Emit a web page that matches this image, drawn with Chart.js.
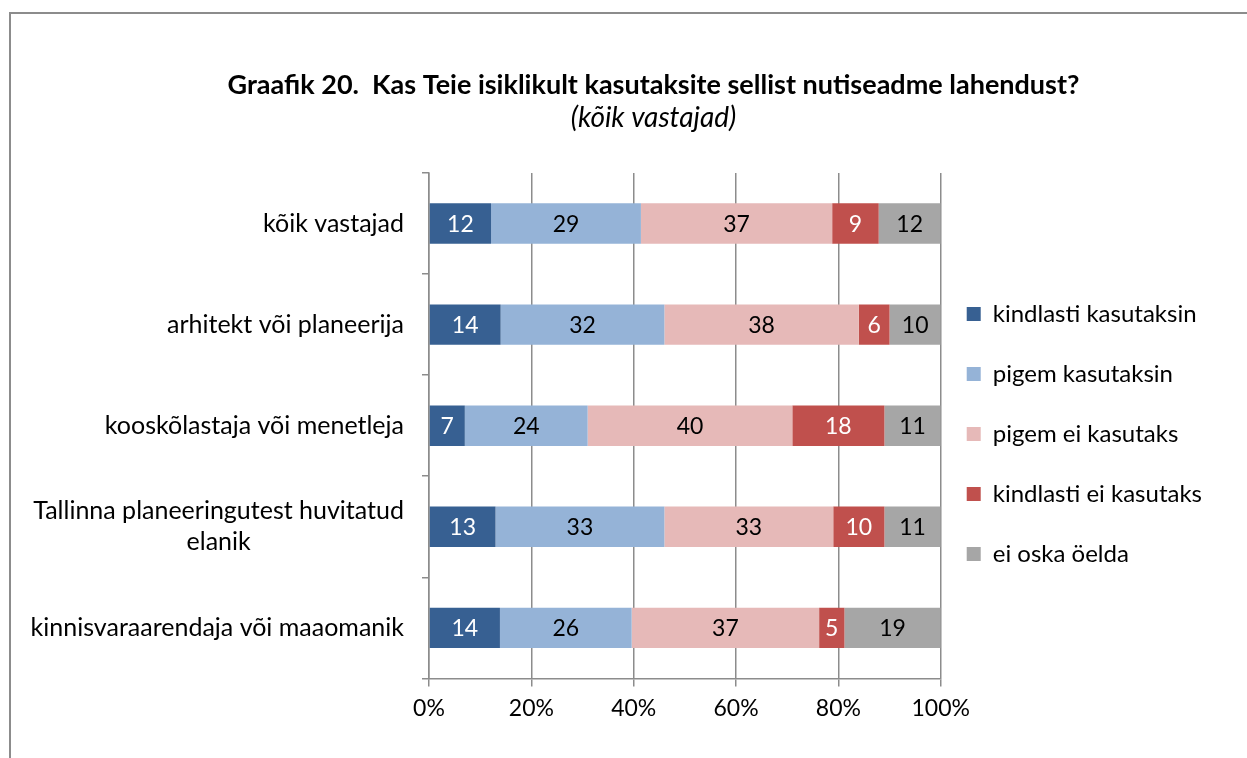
<!DOCTYPE html>
<html>
<head>
<meta charset="utf-8">
<script src="https://cdn.jsdelivr.net/npm/chart.js@4/dist/chart.umd.min.js"></script>
<style>
    html, body { margin: 0; padding: 0; background: #fff; }
    #frame {
        position: absolute; left: 9px; top: 12px; width: 1260px; height: 780px;
        border: 2px solid #8c8c8c; box-sizing: border-box;
    }
    #wrap { position: absolute; left: 0; top: 0; width: 1247px; height: 758px; }
</style>
</head>
<body>
<div id="frame"></div>
<div id="wrap"><canvas id="chart"></canvas></div>
<script>
    'use strict';

    // Categories (top to bottom)
    const categories = [
        'kõik vastajad',
        'arhitekt või planeerija',
        'kooskõlastaja või menetleja',
        ['Tallinna planeeringutest huvitatud', 'elanik'],
        'kinnisvaraarendaja või maaomanik'
    ];

    // Series (answers), values in % per category
    const seriesNames = [
        'kindlasti kasutaksin',
        'pigem kasutaksin',
        'pigem ei kasutaks',
        'kindlasti ei kasutaks',
        'ei oska öelda'
    ];
    const kindlastiKasutaksin = [12, 14, 7, 13, 14];
    const pigemKasutaksin = [29, 32, 24, 33, 26];
    const pigemEiKasutaks = [37, 38, 40, 33, 37];
    const kindlastiEiKasutaks = [9, 6, 18, 10, 5];
    const eiOskaOelda = [12, 10, 11, 11, 19];

    const xTicks = [0, 20, 40, 60, 80, 100];

    const seriesColors = ['#376092', '#95b3d7', '#e6b9b8', '#c0504d', '#a6a6a6'];
    const labelColors = ['#ffffff', '#000000', '#000000', '#ffffff', '#000000'];

    const FONT = 'Lato, "Open Sans", sans-serif';
    const seriesValues = [kindlastiKasutaksin, pigemKasutaksin, pigemEiKasutaks, kindlastiEiKasutaks, eiOskaOelda];

    // 100% stacked: each row scaled to its own total
    const rowTotals = categories.map(function(_, i) {
        return seriesValues.reduce(function(s, arr) { return s + arr[i]; }, 0);
    });

    const datasets = seriesNames.map(function(name, k) {
        return {
            label: name,
            raw: seriesValues[k],
            data: seriesValues[k].map(function(v, i) { return v / rowTotals[i] * 100; }),
            backgroundColor: seriesColors[k],
            borderWidth: 0,
            barPercentage: 0.8,
            categoryPercentage: 0.5
        };
    });

    // Value labels in the middle of each segment
    const segmentLabels = {
        id: 'segmentLabels',
        afterDatasetsDraw: function(chart) {
            const ctx = chart.ctx;
            ctx.save();
            ctx.font = '23px ' + FONT;
            ctx.textAlign = 'center';
            ctx.textBaseline = 'middle';
            chart.data.datasets.forEach(function(ds, k) {
                chart.getDatasetMeta(k).data.forEach(function(bar, i) {
                    ctx.fillStyle = labelColors[k];
                    ctx.fillText(String(ds.raw[i]), (bar.x + bar.base) / 2, bar.y + 1);
                });
            });
            ctx.restore();
        }
    };

    // Category labels: block right-aligned, lines centred inside the block
    const categoryLabels = {
        id: 'categoryLabels',
        afterDraw: function(chart) {
            const ctx = chart.ctx;
            const yScale = chart.scales.y;
            const right = chart.chartArea.left - 25;
            const lineH = 31;
            ctx.save();
            ctx.font = '25px ' + FONT;
            ctx.fillStyle = '#000';
            ctx.textAlign = 'center';
            ctx.textBaseline = 'middle';
            categories.forEach(function(lab, i) {
                const lines = Array.isArray(lab) ? lab : [lab];
                const w = Math.max.apply(null, lines.map(function(l) { return ctx.measureText(l).width; }));
                const cx = right - w / 2;
                const cy = yScale.getPixelForValue(i);
                lines.forEach(function(l, j) {
                    ctx.fillText(l, cx, cy + (j - (lines.length - 1) / 2) * lineH);
                });
            });
            ctx.restore();
        }
    };

    // Pull the legend a little closer to the plot
    const legendNudge = {
        id: 'legendNudge',
        afterLayout: function(chart) {
            if (chart.legend) {
                chart.legend.left -= 10;
                chart.legend.right -= 10;
            }
        }
    };

    new Chart(document.getElementById('chart'), {
        type: 'bar',
        data: { labels: categories, datasets: datasets },
        options: {
            indexAxis: 'y',
            responsive: true,
            maintainAspectRatio: false,
            animation: false,
            layout: { padding: { left: 85, right: 25, top: 0, bottom: 28 } },
            plugins: {
                title: {
                    display: true,
                    text: 'Graafik 20.  Kas Teie isiklikult kasutaksite sellist nutiseadme lahendust?',
                    color: '#000',
                    font: { family: FONT, size: 27, weight: 'bold' },
                    padding: { top: 69, bottom: 0 }
                },
                subtitle: {
                    display: true,
                    text: '(kõik vastajad)',
                    color: '#000',
                    font: { family: FONT, size: 28, style: 'italic' },
                    padding: { top: 0, bottom: 38 }
                },
                legend: {
                    position: 'right',
                    // empty title only pushes the items down to sit beside the bars
                    title: {
                        display: true,
                        text: '',
                        font: { size: 10 },
                        padding: { top: 126, bottom: 0 }
                    },
                    labels: {
                        color: '#000',
                        font: { family: FONT, size: 24 },
                        boxWidth: 14,
                        boxHeight: 14,
                        padding: 36
                    }
                },
                tooltip: { enabled: false }
            },
            scales: {
                x: {
                    stacked: true,
                    min: 0,
                    max: 100,
                    afterBuildTicks: function(scale) {
                        scale.ticks = xTicks.map(function(v) { return { value: v }; });
                    },
                    ticks: {
                        color: '#000',
                        font: { family: FONT, size: 23 },
                        padding: 8,
                        callback: function(v) { return v + '%'; }
                    },
                    grid: { color: '#8c8c8c', lineWidth: 1.5, tickLength: 8 },
                    border: { color: '#8c8c8c', width: 1.5 }
                },
                y: {
                    stacked: true,
                    ticks: { display: false },
                    afterFit: function(scale) { scale.width = 344; },
                    grid: {
                        offset: true,
                        drawOnChartArea: false,
                        drawTicks: true,
                        tickLength: 7,
                        color: '#8c8c8c',
                        lineWidth: 1.5
                    },
                    border: { color: '#8c8c8c', width: 1.5 }
                }
            }
        },
        plugins: [segmentLabels, categoryLabels, legendNudge]
    });
</script>
</body>
</html>
